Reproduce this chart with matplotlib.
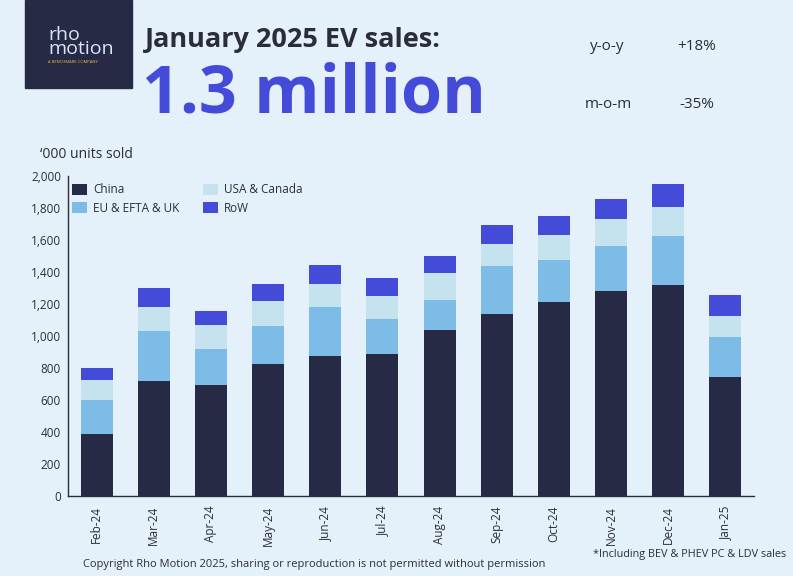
import matplotlib
matplotlib.use("Agg")
import matplotlib.pyplot as plt
import numpy as np
from matplotlib.patches import Rectangle

plt.rcParams['font.family'] = ['Open Sans', 'DejaVu Sans']

months = ['Feb-24', 'Mar-24', 'Apr-24', 'May-24', 'Jun-24', 'Jul-24',
          'Aug-24', 'Sep-24', 'Oct-24', 'Nov-24', 'Dec-24', 'Jan-25']
china = [385, 720, 692, 827, 877, 888, 1040, 1138, 1212, 1282, 1316, 746]
eu = [215, 312, 227, 234, 307, 219, 186, 299, 265, 280, 311, 250]
usa = [125, 152, 148, 159, 142, 146, 167, 141, 154, 171, 180, 132]
row = [75, 113, 90, 102, 117, 111, 104, 116, 121, 124, 141, 128]

series = [('China', china, '#262a45'),
          ('EU & EFTA & UK', eu, '#7dbce6'),
          ('USA & Canada', usa, '#c5e2ef'),
          ('RoW', row, '#434bd8')]

bg = '#e5f1fa'
txt = '#2b2d3a'

fig = plt.figure(figsize=(7.93, 5.76), dpi=100, facecolor=bg)
ax = fig.add_axes([68 / 793, 1 - 496 / 576, 686 / 793, 320 / 576])
ax.set_facecolor(bg)

x = np.arange(len(months))
bottom = np.zeros(len(months))
for name, vals, col in series:
    ax.bar(x, vals, bottom=bottom, width=0.56, color=col, label=name)
    bottom += np.array(vals)

ax.set_xlim(-0.5, 11.5)
ax.set_ylim(0, 2000)
ax.set_yticks(range(0, 2001, 200))
ax.set_yticklabels([f'{v:,}' for v in range(0, 2001, 200)], fontsize=8.5, color=txt)
ax.set_xticks(x)
ax.set_xticklabels(months, rotation=90, fontsize=8.5, color=txt)
for s in ['top', 'right']:
    ax.spines[s].set_visible(False)
for s in ['left', 'bottom']:
    ax.spines[s].set_color(txt)
    ax.spines[s].set_linewidth(1.0)
ax.tick_params(axis='x', length=0, pad=7)
ax.tick_params(axis='y', length=0, pad=5)

leg = ax.legend(ncol=2, frameon=False, loc='upper left', bbox_to_anchor=(-0.01, 1.01),
                fontsize=8.5, handlelength=1.3, handleheight=1.1,
                columnspacing=2.0, labelspacing=0.45, handletextpad=0.5)
for t in leg.get_texts():
    t.set_color(txt)

# header
fig.patches.append(Rectangle((25 / 793, 1 - 88 / 576), 107 / 793, 88 / 576,
                             transform=fig.transFigure, color='#262a45', zorder=0))
fig.text(48 / 793, 1 - 42 / 576, 'rho\nmotion', color='#d8e6f5', fontsize=14,
         ha='left', va='center', linespacing=0.75, multialignment='left')
fig.text(48 / 793, 1 - 62 / 576, 'A BENCHMARK COMPANY', color='#e8b84a',
         fontsize=3, ha='left', va='center')

fig.text(145 / 793, 1 - 40 / 576, 'January 2025 EV sales:', fontsize=19.5,
         fontweight='bold', color=txt, ha='left', va='center')
fig.text(142 / 793, 1 - 95 / 576, '1.3 million', fontsize=48,
         fontweight='bold', color='#434bd8', ha='left', va='center')

fig.text(607 / 793, 1 - 47 / 576, 'y-o-y', fontsize=11, color=txt, ha='center', va='center')
fig.text(697 / 793, 1 - 47 / 576, '+18%', fontsize=11, color=txt, ha='center', va='center')
fig.text(608 / 793, 1 - 105 / 576, 'm-o-m', fontsize=11, color=txt, ha='center', va='center')
fig.text(697 / 793, 1 - 105 / 576, '-35%', fontsize=11, color=txt, ha='center', va='center')

fig.text(40 / 793, 1 - 155 / 576, '\u2018000 units sold', fontsize=10, color=txt,
         ha='left', va='center')

fig.text(83 / 793, 1 - 565 / 576,
         'Copyright Rho Motion 2025, sharing or reproduction is not permitted without permission',
         fontsize=8, color=txt, ha='left', va='center')
fig.text(786 / 793, 1 - 555 / 576, '*Including BEV & PHEV PC & LDV sales',
         fontsize=7.8, color=txt, ha='right', va='center')

fig.savefig('out.png', dpi=100, facecolor=bg)
